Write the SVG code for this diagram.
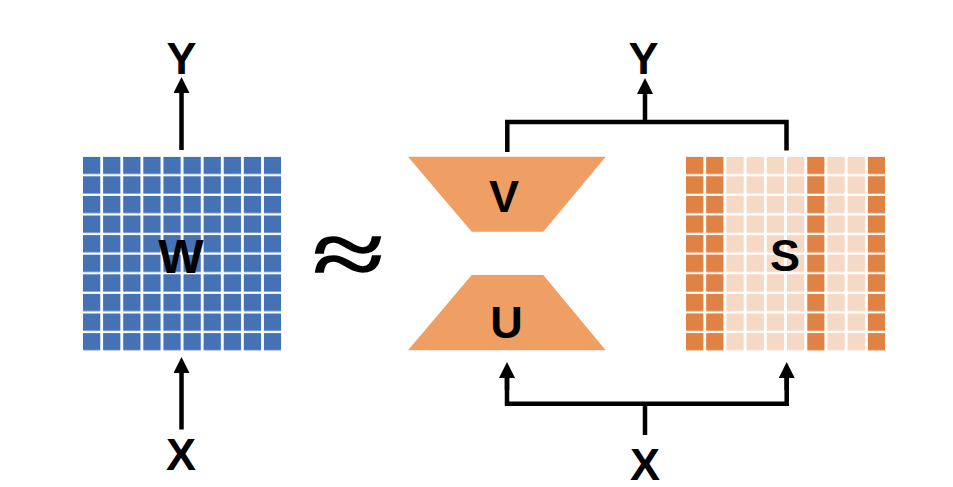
<svg xmlns="http://www.w3.org/2000/svg" width="953" height="487" viewBox="0 0 953 487">
<style>
.lbl{font-family:"Liberation Sans",Arial,sans-serif;font-weight:bold;fill:#000;text-anchor:middle}
.ln{fill:none;stroke:#000;stroke-width:4.5;stroke-linecap:butt;stroke-linejoin:miter}
.trap{fill:#EF9E64}
</style>
<defs>
<pattern id="pw" patternUnits="userSpaceOnUse" x="83" y="156.7" width="20.1" height="19.6">
<rect x="0" y="0" width="17.3" height="17.3" fill="#4472B4"/>
</pattern>
<pattern id="psl" patternUnits="userSpaceOnUse" x="686" y="156.7" width="20.2" height="19.6">
<rect x="0" y="0" width="17.3" height="17.3" fill="#F5D9C4"/>
</pattern>
<pattern id="psd" patternUnits="userSpaceOnUse" x="686" y="156.7" width="20.2" height="19.6">
<rect x="0" y="0" width="17.3" height="17.3" fill="#DF8244"/>
</pattern>
<marker id="ah" markerUnits="userSpaceOnUse" markerWidth="16" markerHeight="16" viewBox="0 0 16 16" refX="1" refY="8" orient="auto">
<path d="M0,0 L16,8 L0,16 Z" fill="#000"/>
</marker>
</defs>
<rect width="953" height="487" fill="#fff"/>
<g id="W">
<rect x="83" y="156.7" width="198.3" height="194" fill="url(#pw)"/>
<text class="lbl" x="181" y="273" font-size="48">W</text>
</g>
<g id="approx">
<text transform="translate(348,255) scale(1.05,0.75)" x="0" y="41" font-size="125" font-weight="bold" font-family="'Liberation Serif','Times New Roman',serif" text-anchor="middle" fill="#000">≈</text>
</g>
<g id="V">
<polygon class="trap" points="408,156.7 605.7,156.7 543.3,231.7 471.7,231.7"/>
<text class="lbl" x="504" y="212" font-size="45">V</text>
</g>
<g id="U">
<polygon class="trap" points="471.7,275 543.3,275 605.7,350.3 408,350.3"/>
<text class="lbl" x="506.5" y="338.3" font-size="45">U</text>
</g>
<g id="S">
<rect x="686" y="156.7" width="199.1" height="194" fill="url(#psl)"/>
<rect x="686" y="156.7" width="37.6" height="194" fill="url(#psd)"/>
<rect x="807.2" y="156.7" width="17.4" height="194" fill="url(#psd)"/>
<rect x="867.8" y="156.7" width="17.4" height="194" fill="url(#psd)"/>
<text class="lbl" x="785" y="271" font-size="45">S</text>
</g>
<g id="labels">
<text class="lbl" x="181.5" y="74" font-size="45">Y</text>
<text class="lbl" x="181" y="470" font-size="45">X</text>
<text class="lbl" x="643.5" y="73.5" font-size="45">Y</text>
<text class="lbl" x="645" y="480" font-size="45">X</text>
</g>
<g id="connectors">
<line class="ln" x1="181.5" y1="150" x2="181.5" y2="92" marker-end="url(#ah)"/>
<line class="ln" x1="181.5" y1="429.5" x2="181.5" y2="372" marker-end="url(#ah)"/>
<polyline class="ln" points="507.3,152 507.3,122 786.5,122 786.5,150.5"/>
<line class="ln" x1="645" y1="122" x2="645" y2="93" marker-end="url(#ah)"/>
<polyline class="ln" points="507,377 507,403.7 786.7,403.7 786.7,377"/>
<line class="ln" x1="507" y1="390" x2="507" y2="377" marker-end="url(#ah)"/>
<line class="ln" x1="786.7" y1="390" x2="786.7" y2="377" marker-end="url(#ah)"/>
<line class="ln" x1="645" y1="403.7" x2="645" y2="435"/>
</g>
</svg>
